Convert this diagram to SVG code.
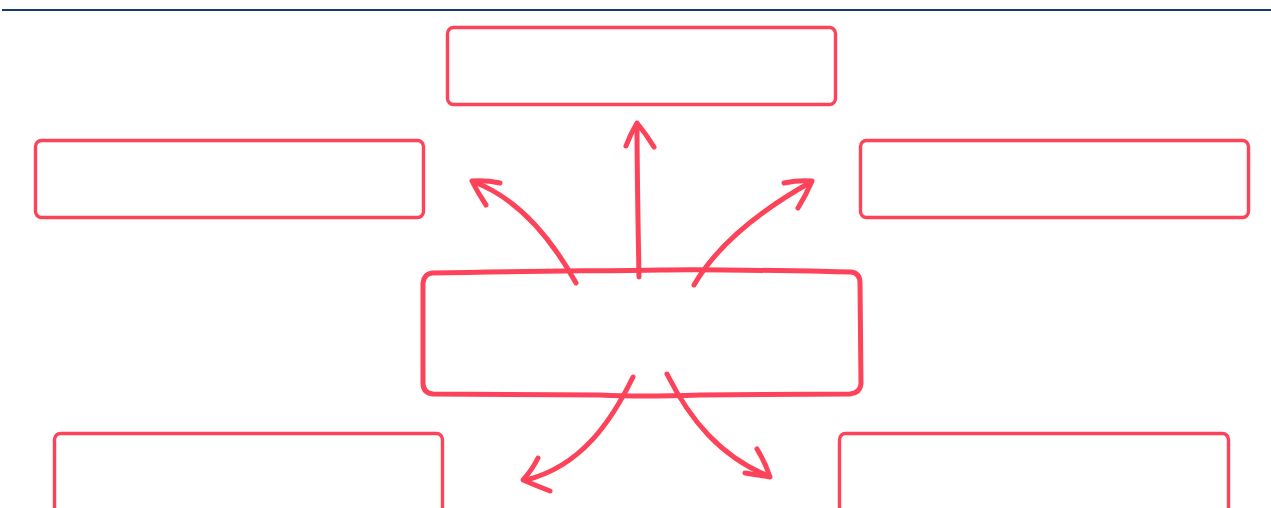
<svg xmlns="http://www.w3.org/2000/svg" width="1271" height="508" viewBox="0 0 1271 508">
<style>
.box{fill:#fff;stroke:#FC4359;stroke-width:3.4}
.hand{fill:#fff;stroke:#FC4359;stroke-width:5;stroke-linejoin:round}
.arr{fill:none;stroke:#FC4359;stroke-width:5;stroke-linecap:round;stroke-linejoin:round}
</style>
<rect width="1271" height="508" fill="#fff"/>
<line x1="2" y1="10" x2="1271" y2="10" stroke="#163A6A" stroke-width="2"/>
<g id="node-top"><rect class="box" x="447.5" y="27.5" width="388" height="77" rx="6"/></g>
<g id="node-left"><rect class="box" x="35.5" y="140.5" width="388" height="77" rx="6"/></g>
<g id="node-right"><rect class="box" x="860.5" y="140.5" width="388" height="77" rx="6"/></g>
<g id="node-bottom-left"><rect class="box" x="54.5" y="433.5" width="388" height="80" rx="6"/></g>
<g id="node-bottom-right"><rect class="box" x="839.5" y="433.5" width="389" height="80" rx="6"/></g>
<g id="node-center"><path class="hand" d="M 432 273 C 520 271, 600 271, 660 270 S 800 271, 851 272 Q 860 273 860 283 L 861 384 Q 860 393 850 394 L 700 395 Q 640 397 600 395 L 433 394 Q 423 393 423 383 L 423 283 Q 424 274 432 273 Z"/></g>
<g id="connectors">
<path class="arr" d="M 639 277 C 638 220, 637 170, 637 124"/>
<path class="arr" d="M 626 146 Q 630 135 637 123 Q 646 134 654 147"/>
<path class="arr" d="M 576 283 C 555 245, 522 200, 474 182"/>
<path class="arr" d="M 500 183 Q 486 180 472 181 Q 478 193 486 205"/>
<path class="arr" d="M 694 285 C 720 240, 770 205, 811 182"/>
<path class="arr" d="M 784 183 Q 798 180 812 181 Q 806 195 798 208"/>
<path class="arr" d="M 633 377 C 612 420, 582 466, 526 480"/>
<path class="arr" d="M 538 458 Q 532 470 523 480 Q 537 486 550 491"/>
<path class="arr" d="M 667 374 C 690 420, 720 456, 768 476"/>
<path class="arr" d="M 757 449 Q 765 462 770 477 Q 757 475 745 473"/>
</g>
</svg>
